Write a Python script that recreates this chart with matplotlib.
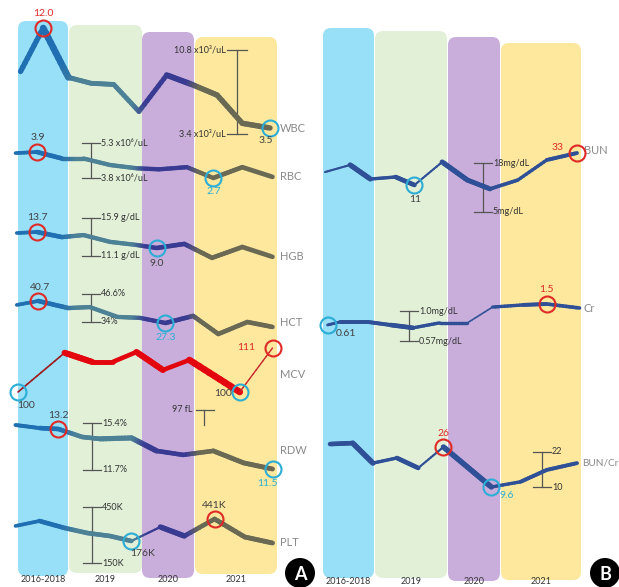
import numpy as np
import matplotlib
matplotlib.use("Agg")
import matplotlib.pyplot as plt
from matplotlib.collections import LineCollection
from matplotlib.colors import to_rgb
from matplotlib.patches import FancyBboxPatch, Circle

W, H = 619, 587
FONT = ["Lato", "DejaVu Sans"]

YEARS = ["2016-2018", "2019", "2020", "2021"]

# panel A: blood count, visit position t and value
WBC_T = [0.1, 1.0, 2.0, 2.9, 3.8, 4.8, 5.9, 6.9, 7.9, 8.9, 10.0]
WBC = [8.3, 12.0, 7.8, 7.3, 7.2, 4.9, 8.0, 7.2, 6.3, 3.9, 3.5]
RBC_T = [-0.1, 0.75, 1.75, 2.6, 3.65, 4.7, 5.6, 6.7, 7.75, 8.9, 10.1]
RBC = [3.85, 3.9, 3.6, 3.6, 3.3, 3.15, 3.1, 3.2, 2.7, 3.2, 2.75]
HGB_T = [-0.05, 0.75, 1.75, 2.6, 3.65, 4.7, 5.5, 6.6, 7.7, 8.9, 10.1]
HGB = [13.4, 13.7, 12.2, 12.8, 10.8, 9.9, 9.0, 10.2, 6.1, 9.3, 6.4]
HCT_T = [-0.05, 0.8, 2.0, 2.85, 3.95, 4.85, 5.85, 6.95, 7.95, 9.1, 10.1]
HCT = [38.3, 40.7, 36.4, 37.0, 31.0, 30.4, 27.3, 31.6, 20.6, 27.9, 24.9]
MCV_T = [0.0, 1.85, 2.95, 3.75, 4.7, 5.75, 6.8, 8.8, 10.1]
MCV = [100, 109.8, 107.5, 107.5, 110, 105.5, 108, 100, 111]
RDW_T = [-0.1, 0.85, 1.6, 2.55, 3.25, 4.5, 5.5, 6.55, 7.75, 8.95, 10.1]
RDW = [13.37, 13.24, 13.2, 12.86, 12.78, 12.82, 12.27, 12.1, 12.27, 11.76, 11.5]
PLT_T = [-0.1, 0.85, 1.85, 2.75, 3.65, 4.5, 5.65, 6.6, 7.8, 9.0, 10.1]
PLT = [357, 417, 333, 272, 236, 176, 345, 236, 441, 224, 152]

# panel B: renal function
BUN_T = [0.0, 1.0, 1.8, 2.8, 3.55, 4.65, 5.65, 6.55, 7.65, 8.8, 10.0]
BUN = [19.9, 24.8, 15.1, 16.5, 11, 26.8, 14.4, 8.3, 14.4, 28.2, 33]
CR_T = [0.1, 0.6, 1.7, 2.6, 3.5, 4.55, 5.65, 6.65, 7.85, 8.8, 10.1]
CR = [0.61, 0.74, 0.74, 0.61, 0.49, 0.70, 0.70, 1.37, 1.46, 1.5, 1.33]
BUNCR_T = [0.2, 1.1, 1.9, 2.85, 3.7, 4.7, 5.65, 6.6, 7.75, 8.8, 10.0]
BUNCR = [27.2, 27.6, 19.4, 21.5, 17.4, 26, 17.8, 9.6, 11.7, 16.6, 19.4]

# reference ranges: (upper label, lower label)
REF_RANGES = {
    "WBC": ("10.8 x10³/uL", "3.4 x10³/uL"),
    "RBC": ("5.3 x10⁶/uL", "3.8 x10⁶/uL"),
    "HGB": ("15.9 g/dL", "11.1 g/dL"),
    "HCT": ("46.6%", "34%"),
    "RDW": ("15.4%", "11.7%"),
    "PLT": ("450K", "150K"),
    "BUN": ("18mg/dL", "5mg/dL"),
    "Cr": ("1.0mg/dL", "0.57mg/dL"),
    "BUN/Cr": ("22", "10"),
}

BAND_COLORS = ["#98dff8", "#e2f0d8", "#c9aedc", "#fde89d"]
RED = "#e02a26"
CYAN = "#2badd6"
DARK = "#404040"


def series_table():
    # name, panel, t, values, label format, highlights (index, kind, dx, dy)
    return [
        ("WBC", "A", WBC_T, WBC, "{:.1f}", [(1, "hi", 0, 14), (10, "lo", -4, -13)]),
        ("RBC", "A", RBC_T, RBC, "{:.1f}", [(1, "hi", 1, 14), (8, "lo", 0, -13)]),
        ("HGB", "A", HGB_T, HGB, "{:.1f}", [(1, "hi", 1, 14), (6, "lo", 0, -15)]),
        ("HCT", "A", HCT_T, HCT, "{:.1f}", [(1, "hi", 2, 13), (6, "lo", 0, -14)]),
        ("MCV", "A", MCV_T, MCV, "{:.0f}",
         [(0, "lo", 8, -14), (7, "lo", -17, -1), (8, "hi", -26, 0)]),
        ("RDW", "A", RDW_T, RDW, "{:.1f}", [(2, "hi", 0, 14), (10, "lo", -5, -14)]),
        ("PLT", "A", PLT_T, PLT, "{:.0f}K", [(8, "hi", 0, 13), (5, "lo", 11, -13)]),
        ("BUN", "B", BUN_T, BUN, "{:.0f}", [(10, "hi", -19, 6), (4, "lo", 1, -14)]),
        ("Cr", "B", CR_T, CR, "{:g}", [(9, "hi", 0, 14), (0, "lo", 18, -8)]),
        ("BUN/Cr", "B", BUNCR_T, BUNCR, "{:g}", [(5, "hi", 0, 14), (7, "lo", 15, -8)]),
    ]


# layout in pixels ---------------------------------------------------------
PANEL_X = {"A": (18, 270), "B": (325, 577)}  # pixel x of t=0 and t=10
ROW_PX = {  # pixel rows of the highlighted high / low values
    "WBC": (28, 128), "RBC": (152, 178), "HGB": (232, 248), "HCT": (301, 323),
    "MCV": (348, 392), "RDW": (429, 469), "PLT": (519, 541),
    "BUN": (153, 185), "Cr": (304, 325), "BUN/Cr": (447, 487),
}
NAME_POS = {
    "WBC": (280, 128), "RBC": (280, 177), "HGB": (280, 256), "HCT": (280, 323),
    "MCV": (280, 375), "RDW": (280, 450), "PLT": (280, 542),
    "BUN": (584, 151), "Cr": (584, 308), "BUN/Cr": (582, 463),
}
NAME_SIZE = {"BUN/Cr": 7.2}
# x, top, bottom, tick half width, label side
RANGE_PX = {
    "WBC": (237, 50, 134, 10, "left"), "RBC": (91, 143, 178, 9, "right"),
    "HGB": (91, 218, 256, 9, "right"), "HCT": (91, 294, 322, 9, "right"),
    "RDW": (92, 423, 470, 9, "right"), "PLT": (92, 507, 563, 9, "right"),
    "BUN": (483, 163, 212, 9, "right"), "Cr": (409, 311, 341, 9, "right"),
    "BUN/Cr": (542, 452, 487, 9, "right"),
}
BANDS_PX = {
    "A": [(18, 68, 21, 576), (69, 142, 25, 573), (142, 194, 32, 578), (195, 277, 37, 574)],
    "B": [(323, 374, 28, 578), (375, 447, 31, 578), (448, 500, 37, 581), (501, 581, 43, 580)],
}
YEAR_Y = {"A": 580, "B": 581}

# line widths (pt) for each segment
WIDTHS = {
    "WBC": [3.8, 4.8, 3.5, 3.5, 3.5, 3.5, 4.1, 3.9, 3.9, 3.9],
    "RBC": [2.6, 3.3, 3.1, 3.1, 3.1, 3.1, 3.1, 3.1, 3.3, 3.3],
    "HGB": [2.6, 3.3, 3.1, 3.1, 3.1, 3.1, 3.3, 3.3, 3.3, 3.3],
    "HCT": [2.6, 3.3, 3.1, 3.1, 3.1, 3.1, 3.3, 3.3, 3.3, 3.3],
    "MCV": [1.2, 4.4, 3.4, 3.2, 4.4, 3.2, 4.8, 1.0],
    "RDW": [2.8, 3.3, 3.3, 3.3, 3.7, 3.9, 3.3, 3.3, 3.5, 3.5],
    "PLT": [2.6, 3.3, 3.3, 3.3, 3.3, 1.6, 3.9, 3.3, 3.5, 3.5],
    "BUN": [1.5, 3.7, 2.4, 3.3, 1.5, 3.7, 3.5, 2.6, 2.4, 2.8],
    "Cr": [2.0, 2.8, 2.8, 3.3, 2.4, 2.4, 1.1, 2.4, 2.8, 2.6],
    "BUN/Cr": [3.3, 3.9, 2.4, 3.3, 1.5, 3.9, 3.9, 2.4, 2.8, 2.8],
}
MCV_COLORS = ["#9e1b1e", "#e3060f", "#e3060f", "#e3060f", "#e3060f", "#e3060f", "#e3060f", "#c8242b"]
A_STOPS_T = [-1, 1.75, 2.35, 4.6, 5.1, 6.75, 7.25, 11]
A_STOPS_C = ["#1f6fb2", "#1f6fb2", "#4d8196", "#4d8196", "#393b93", "#393b93", "#6a6a54", "#6a6a54"]
B_COLOR = "#2f5096"


def panel_a_color(t):
    rgb = np.array([to_rgb(c) for c in A_STOPS_C])
    return tuple(np.interp(t, A_STOPS_T, rgb[:, k]) for k in range(3))


def draw_trace(ax, name, t, v, color_at, pieces=10):
    segs, cols, lws = [], [], []
    for i in range(len(t) - 1):
        ts = np.linspace(t[i], t[i + 1], pieces + 1)
        vs = np.linspace(v[i], v[i + 1], pieces + 1)
        for k in range(pieces):
            segs.append([(ts[k], vs[k]), (ts[k + 1], vs[k + 1])])
            cols.append(color_at(i, 0.5 * (ts[k] + ts[k + 1])))
            lws.append(WIDTHS[name][i])
    lc = LineCollection(segs, colors=cols, linewidths=lws, capstyle="round",
                        joinstyle="round", clip_on=False)
    ax.add_collection(lc)


def main():
    fig = plt.figure(figsize=(W / 100, H / 100), dpi=100)
    base = fig.add_axes([0, 0, 1, 1])
    base.set_xlim(0, W)
    base.set_ylim(H, 0)
    base.axis("off")

    # year bands
    r = 8
    for panel, bands in BANDS_PX.items():
        for (x0, x1, top, bot), color, year in zip(bands, BAND_COLORS, YEARS):
            base.add_patch(FancyBboxPatch(
                (x0 + r, top + r), x1 - x0 - 2 * r, bot - top - 2 * r,
                boxstyle=f"round,pad={r}", facecolor=color, edgecolor="none", zorder=0))
            base.text((x0 + x1) / 2, YEAR_Y[panel], year, ha="center", va="center",
                      fontsize=6.5, color="#333333", family=FONT)

    # reference range bars
    for name, (upper, lower) in REF_RANGES.items():
        x, top, bot, hw, side = RANGE_PX[name]
        kw = dict(color="#555555", lw=0.9, zorder=3)
        base.plot([x, x], [top, bot], **kw)
        base.plot([x - hw, x + hw], [top, top], **kw)
        base.plot([x - hw, x + hw], [bot, bot], **kw)
        if side == "right":
            lx, ha = x + hw + 1, "left"
        else:
            lx, ha = x - hw - 1, "right"
        for y, label in ((top, upper), (bot, lower)):
            base.text(lx, y, label, ha=ha, va="center", fontsize=6.5,
                      color="#333333", family=FONT)

    # MCV reference: 97 fL marker
    base.plot([196, 214], [410, 410], color="#555555", lw=0.9)
    base.plot([204, 204], [410, 425], color="#555555", lw=0.9)
    base.text(192, 409, "97 fL", ha="right", va="center", fontsize=6.5,
              color="#333333", family=FONT)

    for name, (x, y) in NAME_POS.items():
        base.text(x, y, name, ha="left", va="center", fontsize=NAME_SIZE.get(name, 8),
                  color="#8a8a8a", family=FONT)

    for label, cx in (("A", 300), ("B", 605)):
        base.add_patch(Circle((cx, 573), 15, facecolor="black", edgecolor="none", zorder=5))
        base.text(cx, 574, label, ha="center", va="center", fontsize=13,
                  fontweight="bold", color="white", family=FONT, zorder=6)

    # one transparent axes per analyte, sharing the panel's time scale
    for name, panel, t, v, fmt, marks in series_table():
        x0, x1 = PANEL_X[panel]
        y_hi, y_lo = ROW_PX[name]
        v_hi = max(v[i] for i, kind, _, _ in marks if kind == "hi")
        v_lo = min(v[i] for i, kind, _, _ in marks if kind == "lo")
        ax = fig.add_axes([x0 / W, 1 - y_lo / H, (x1 - x0) / W, (y_lo - y_hi) / H])
        ax.set_xlim(0, 10)
        ax.set_ylim(v_lo, v_hi)
        ax.axis("off")
        ax.patch.set_alpha(0)

        if name == "MCV":
            color_at = lambda i, tm: MCV_COLORS[i]
        elif panel == "A":
            color_at = lambda i, tm: panel_a_color(tm)
        else:
            color_at = lambda i, tm: B_COLOR
        draw_trace(ax, name, t, v, color_at)

        for i, kind, dx, dy in marks:
            ring = RED if kind == "hi" else CYAN
            ax.plot(t[i], v[i], "o", ms=11.5, mfc="none", mec=ring, mew=1.5, clip_on=False)
            if kind == "hi":
                txt_color = RED if name in ("WBC", "MCV", "BUN", "Cr", "BUN/Cr") else DARK
            else:
                txt_color = CYAN if name in ("RBC", "HCT", "RDW", "BUN/Cr") else DARK
            ax.annotate(fmt.format(v[i]), (t[i], v[i]), xytext=(dx, dy),
                        textcoords="offset pixels", ha="center", va="center",
                        fontsize=7.5, color=txt_color, family=FONT, annotation_clip=False)

    fig.savefig("out.png", dpi=100)


if __name__ == "__main__":
    main()
